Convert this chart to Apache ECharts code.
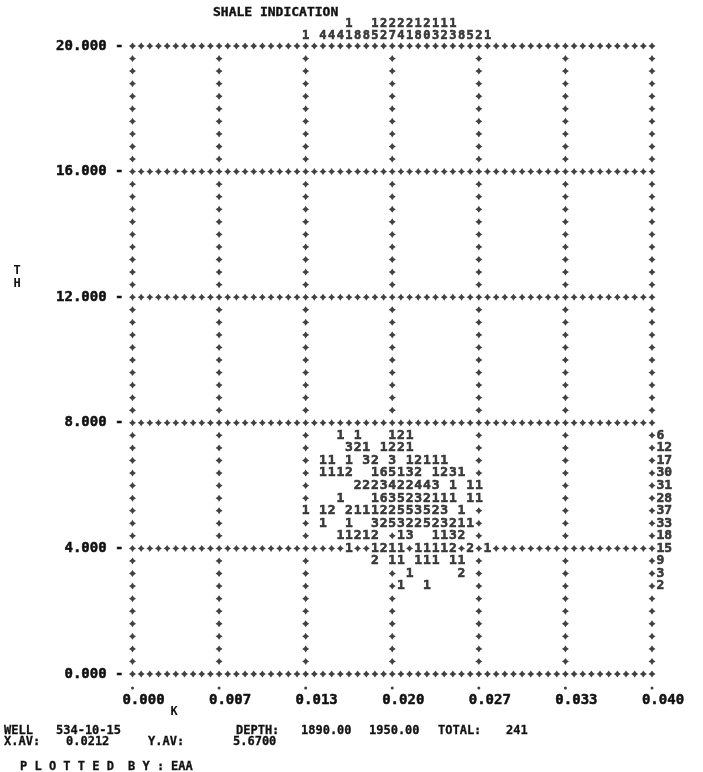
<!DOCTYPE html>
<html><head><meta charset="utf-8">
<script src="https://cdn.jsdelivr.net/npm/echarts@6/dist/echarts.min.js"></script>
<style>html,body{margin:0;padding:0;background:#fff}#c{width:703px;height:772px}</style>
</head><body><div id="c"></div>
<script>
// ---- axis definitions ----
const K_MIN = 0, K_MAX = 0.04, K_COLS = 60;      // K axis, 60 print columns
const TH_MIN = 0, TH_MAX = 20, TH_ROWS = 50;     // TH axis, 50 print rows
const xTickLabels = ['0.000','0.007','0.013','0.020','0.027','0.033','0.040'];
const yTickLabels = ['0.000','4.000','8.000','12.000','16.000','20.000'];

// ---- cell counts: TH value of each printed row, and [K column, count] pairs ----
const rowTH = [7.6, 7.2, 6.8, 6.4, 6.0, 5.6, 5.2, 4.8, 4.4, 4.0, 3.6, 3.2, 2.8];
const cellsByRow = [
  [[24,1],[26,1],[30,1],[31,2],[32,1]],
  [[25,3],[26,2],[27,1],[29,1],[30,2],[31,2],[32,1]],
  [[22,1],[23,1],[25,1],[27,3],[28,2],[30,3],[32,1],[33,2],[34,1],[35,1],[36,1]],
  [[22,1],[23,1],[24,1],[25,2],[28,1],[29,6],[30,5],[31,1],[32,3],[33,2],[35,1],[36,2],[37,3],[38,1]],
  [[26,2],[27,2],[28,2],[29,3],[30,4],[31,2],[32,2],[33,4],[34,4],[35,3],[37,1],[39,1],[40,1]],
  [[24,1],[28,1],[29,6],[30,3],[31,5],[32,2],[33,3],[34,2],[35,1],[36,1],[37,1],[39,1],[40,1]],
  [[20,1],[22,1],[23,2],[25,2],[26,1],[27,1],[28,1],[29,2],[30,2],[31,5],[32,5],[33,3],[34,5],[35,2],[36,3],[38,1]],
  [[22,1],[25,1],[28,3],[29,2],[30,5],[31,3],[32,2],[33,2],[34,5],[35,2],[36,3],[37,2],[38,1],[39,1]],
  [[24,1],[25,1],[26,2],[27,1],[28,2],[31,1],[32,3],[35,1],[36,1],[37,3],[38,2]],
  [[25,1],[28,1],[29,2],[30,1],[31,1],[33,1],[34,1],[35,1],[36,1],[37,2],[39,2],[41,1]],
  [[28,2],[30,1],[31,1],[33,1],[34,1],[35,1],[37,1],[38,1]],
  [[32,1],[38,2]],
  [[31,1],[34,1]]
];
const rowTotals = [6, 12, 17, 30, 31, 28, 37, 33, 18, 15, 9, 3, 2];
const colTotalCols = [20,22,23,24,25,26,27,28,29,30,31,32,33,34,35,36,37,38,39,40,41];
const colTotals    = [ 1, 4, 4, 4,11, 8, 8,15,22,27,24,21,18,20,13,12,13, 8, 5, 2, 1];

// ---- build ----
const K_STEP = (K_MAX - K_MIN) / K_COLS;
const TH_STEP = (TH_MAX - TH_MIN) / TH_ROWS;
const FONT = "'DejaVu Sans Mono', 'Liberation Mono', monospace";
const INK = '#111';
const PX_PER_TH = 628 / (TH_MAX - TH_MIN);
const HIST_TENS_Y = TH_MAX + 22 / PX_PER_TH;
const HIST_UNITS_Y = TH_MAX + 10 / PX_PER_TH;
const DOT_Y = TH_MIN - 14 / PX_PER_TH;

const cellData = [];
const occupied = new Set();
rowTH.forEach((th, i) => {
  const r = Math.round((TH_MAX - th) / TH_STEP);
  cellsByRow[i].forEach(([c, n]) => {
    cellData.push([K_MIN + c * K_STEP, th, n]);
    occupied.add(r + '_' + c);
  });
});
const gridPts = [];
for (let r = 0; r <= TH_ROWS; r++) {
  for (let c = 0; c <= K_COLS; c++) {
    if (r % 10 && c % 10) continue;
    if (occupied.has(r + '_' + c)) continue;
    gridPts.push([K_MIN + c * K_STEP, TH_MAX - r * TH_STEP]);
  }
}
const histTens = [], histUnits = [];
colTotalCols.forEach((c, i) => {
  const n = colTotals[i];
  if (n >= 10) histTens.push([K_MIN + c * K_STEP, HIST_TENS_Y, Math.floor(n / 10)]);
  histUnits.push([K_MIN + c * K_STEP, HIST_UNITS_Y, n % 10]);
});
const totalsData = rowTH.map((th, i) => [K_MAX, th, rowTotals[i]]);
const dotData = xTickLabels.map((_, i) => [K_MIN + i * (K_MAX - K_MIN) / 6, DOT_Y]);

function textSeries(data, size, extraLabel) {
  return {
    type: 'scatter', data, symbol: 'circle', symbolSize: 1, clip: false, silent: true,
    itemStyle: { color: 'rgba(0,0,0,0)' },
    label: Object.assign({
      show: true, position: 'inside', color: INK,
      fontFamily: FONT, fontWeight: 'bold', fontSize: size,
      textBorderColor: INK, textBorderWidth: 0.6,
      formatter: p => String(p.value[2])
    }, extraLabel || {})
  };
}

const chart = echarts.init(document.getElementById('c'), null, { renderer: 'canvas' });
chart.setOption({
  animation: false,
  backgroundColor: '#fff',
  grid: { left: 132.5, right: 51, top: 46, bottom: 98, containLabel: false },
  xAxis: {
    type: 'value', min: K_MIN, max: K_MAX, interval: (K_MAX - K_MIN) / 6,
    axisLine: { show: false }, axisTick: { show: false }, splitLine: { show: false },
    axisLabel: {
      show: true, margin: 19, color: INK, fontFamily: FONT, fontWeight: 'bold', fontSize: 14,
      textBorderColor: INK, textBorderWidth: 0.5,
      align: 'center', padding: [0, 0, 0, 22], showMaxLabel: true, showMinLabel: true,
      formatter: v => xTickLabels[Math.round((v - K_MIN) / ((K_MAX - K_MIN) / 6))]
    }
  },
  yAxis: {
    type: 'value', min: TH_MIN, max: TH_MAX, interval: 4,
    axisLine: { show: false }, axisTick: { show: false }, splitLine: { show: false },
    axisLabel: {
      show: true, margin: 9, color: INK, fontFamily: FONT, fontWeight: 'bold', fontSize: 14,
      textBorderColor: INK, textBorderWidth: 0.5,
      formatter: v => yTickLabels[Math.round((v - TH_MIN) / 4)] + ' -'
    }
  },
  series: [
    {
      type: 'scatter', data: gridPts, clip: false, silent: true,
      symbol: 'path://M5,0L7,3L10,5L7,7L5,10L3,7L0,5L3,3Z', symbolSize: 7,
      itemStyle: { color: INK }
    },
    {
      type: 'scatter', data: dotData, clip: false, silent: true,
      symbol: 'circle', symbolSize: 3, itemStyle: { color: INK }
    },
    textSeries(cellData, 13),
    textSeries(totalsData, 13, { position: 'right', distance: 4 }),
    textSeries(histTens, 12),
    textSeries(histUnits, 12)
  ],
  graphic: [
    { type: 'text', x: 213, y: 13, style: { text: 'SHALE INDICATION', font: 'bold 13px ' + FONT, fill: INK, stroke: INK, lineWidth: 0.4, verticalAlign: 'middle', textVerticalAlign: 'middle' } },
    { type: 'text', x: 17, y: 271, style: { text: 'T', font: 'bold 12px ' + FONT, fill: INK, align: 'center', textAlign: 'center', verticalAlign: 'middle', textVerticalAlign: 'middle' } },
    { type: 'text', x: 17, y: 284, style: { text: 'H', font: 'bold 12px ' + FONT, fill: INK, align: 'center', textAlign: 'center', verticalAlign: 'middle', textVerticalAlign: 'middle' } },
    { type: 'text', x: 174, y: 712, style: { text: 'K', font: 'bold 12px ' + FONT, fill: INK, align: 'center', textAlign: 'center', verticalAlign: 'middle', textVerticalAlign: 'middle' } },
    ...[
      ['WELL', 4, 731], ['534-10-15', 56, 731], ['DEPTH:', 236, 731], ['1890.00', 301, 731],
      ['1950.00', 369, 731], ['TOTAL:', 438, 731], ['241', 506, 731],
      ['X.AV:', 4, 742], ['0.0212', 66, 742], ['Y.AV:', 148, 742], ['5.6700', 233, 742],
      ['P L O T T E D', 20, 767], ['B Y :', 128, 767], ['EAA', 171, 767]
    ].map(([t, x, y]) => ({
      type: 'text', x, y,
      style: { text: t, font: 'bold 12px ' + FONT, fill: INK, stroke: INK, lineWidth: 0.3, verticalAlign: 'middle', textVerticalAlign: 'middle' }
    }))
  ]
});
</script>
</body></html>
